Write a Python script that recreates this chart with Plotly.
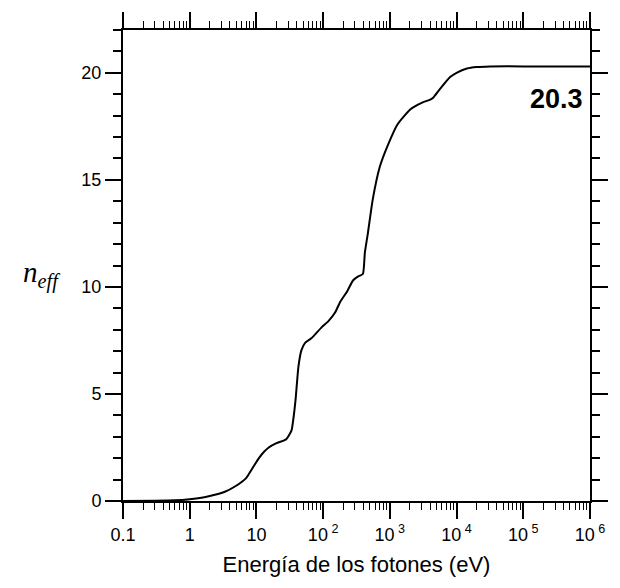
import plotly.graph_objects as go
import numpy as np

# Photon energy (eV) and effective number of electrons
energy_ev = [0.1, 0.3, 0.6, 1.0, 1.5, 2.0, 3.3, 4.9, 7.0, 7.7, 9.0, 10.9, 13.0, 15.3,
             20.0, 28.0, 33.6, 36.0, 38.5, 42.7, 47.3, 54.0, 66.6, 94.0, 120.0, 151.0,
             180.0, 230.0, 280.0, 340.0, 394.0, 422.0, 468.0, 555.0, 705.0, 927.0,
             1306.0, 2037.0, 3000.0, 4040.0, 4500.0, 5500.0, 8000.0, 10000.0, 14300.0,
             20000.0, 31500.0, 100000.0, 1000000.0]
n_eff = [0.0, 0.01, 0.03, 0.08, 0.15, 0.23, 0.42, 0.7, 1.07, 1.26, 1.6, 2.0, 2.3, 2.5,
         2.7, 2.88, 3.3, 3.9, 4.7, 6.3, 7.05, 7.4, 7.6, 8.1, 8.4, 8.8,
         9.3, 9.8, 10.3, 10.5, 10.6, 11.6, 12.5, 14.1, 15.6, 16.6,
         17.6, 18.3, 18.6, 18.75, 18.85, 19.2, 19.8, 20.0, 20.2,
         20.27, 20.3, 20.3, 20.3]

x_tickvals = [0.1, 1, 10, 100, 1000, 1e4, 1e5, 1e6]
x_ticktext = ["0.1", "1", "10", "10<sup> 2</sup>", "10<sup> 3</sup>", "10<sup> 4</sup>",
              "10<sup> 5</sup>", "10<sup> 6</sup>"]
y_tickvals = [0, 5, 10, 15, 20]
sum_label = "20.3"
sum_value = 18.8

x_minor = [k * 10.0 ** d for d in range(-1, 6) for k in range(2, 10)]

fig = go.Figure()
fig.add_trace(go.Scatter(x=energy_ev, y=n_eff, mode="lines",
                         line=dict(color="black", width=2, shape="spline", smoothing=0.5),
                         showlegend=False))

axis_font = dict(family="Liberation Sans, Arial, sans-serif", size=18, color="black")

fig.update_xaxes(type="log", range=[-1, 6], tickvals=x_tickvals, ticktext=x_ticktext,
                 ticks="outside", ticklen=16, tickwidth=1.5, tickcolor="black",
                 showline=True, linecolor="black", linewidth=2, mirror="ticks",
                 showgrid=False, zeroline=False, tickfont=axis_font,
                 minor=dict(tickvals=x_minor, ticks="outside", ticklen=7, tickwidth=1.2,
                            tickcolor="black", showgrid=False),
                 title=dict(text="Energía de los fotones (eV)",
                            font=dict(family="Liberation Sans, Arial, sans-serif", size=22,
                                      color="black"), standoff=13))
fig.update_yaxes(range=[0, 22], tickvals=y_tickvals,
                 ticks="outside", ticklen=16, tickwidth=1.5, tickcolor="black",
                 showline=True, linecolor="black", linewidth=2, mirror="ticks",
                 showgrid=False, zeroline=False, tickfont=axis_font,
                 minor=dict(dtick=1, ticks="outside", ticklen=8, tickwidth=1.5,
                            tickcolor="black", showgrid=False))

fig.add_annotation(x=5.92, y=sum_value, xref="x", yref="y", text="<b>%s</b>" % sum_label,
                   showarrow=False, xanchor="right", yanchor="middle",
                   font=dict(family="Liberation Sans, Arial, sans-serif", size=27,
                             color="black"))
fig.add_annotation(x=-0.175, y=10.6, xref="paper", yref="y",
                   text="<i>n</i><sub><i>eff</i></sub>", showarrow=False,
                   xanchor="center", yanchor="middle",
                   font=dict(family="Liberation Serif, Times New Roman, serif", size=29,
                             color="black"))

fig.update_layout(width=620, height=588, margin=dict(l=123, r=26, t=30, b=87),
                  paper_bgcolor="white", plot_bgcolor="white")

fig.write_html("out.html")
